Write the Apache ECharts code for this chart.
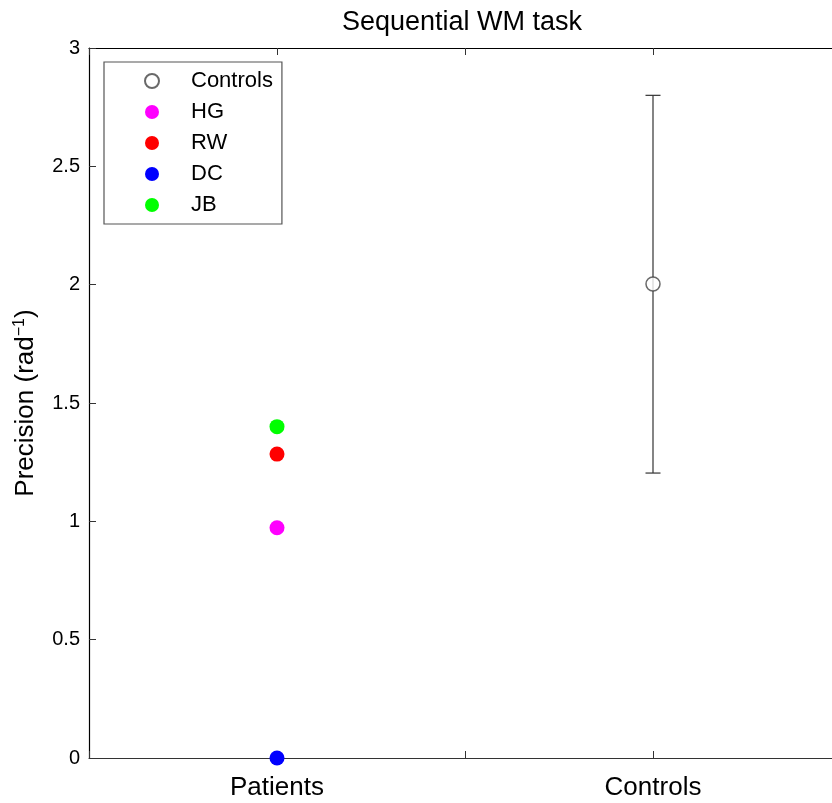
<!DOCTYPE html>
<html>
<head>
<meta charset="utf-8">
<script src="https://cdn.jsdelivr.net/npm/echarts@6/dist/echarts.min.js"></script>
<style>
  html, body { margin: 0; padding: 0; background: #fff; }
  #chart { width: 832px; height: 803px; }
</style>
</head>
<body>
<div id="chart"></div>
<script>
// group positions on the x axis
var groupNames = {1: 'Patients', 2: 'Controls'};

// patients (one point each, at x = 1)
var patientNames = ['HG', 'RW', 'DC', 'JB'];
var patientColors = ['#ff00ff', '#ff0000', '#0000ff', '#00ff00'];
var patientValues = [0.973, 1.284, 0.0, 1.400];

// controls: mean and error bar limits (at x = 2)
var controlsMean = [[2, 2.003]];
var controlsError = [[2, 1.204, 2.800]];

var font = 'Arial, "Liberation Sans", sans-serif';

function get_echarts() {
  var myChart = echarts.init(document.getElementById('chart'));

  var series = [];

  // error bar for the controls
  series.push({
    name: 'err',
    type: 'custom',
    silent: true,
    z: 1,
    data: controlsError,
    renderItem: function (params, api) {
      var lo = api.coord([api.value(0), api.value(1)]);
      var hi = api.coord([api.value(0), api.value(2)]);
      var w = 7.5;
      var st = {stroke: '#333', lineWidth: 1.2};
      return {
        type: 'group',
        children: [
          {type: 'line', shape: {x1: lo[0], y1: lo[1], x2: hi[0], y2: hi[1]}, style: st},
          {type: 'line', shape: {x1: lo[0] - w, y1: lo[1], x2: lo[0] + w, y2: lo[1]}, style: st},
          {type: 'line', shape: {x1: hi[0] - w, y1: hi[1], x2: hi[0] + w, y2: hi[1]}, style: st}
        ]
      };
    }
  });

  series.push({
    name: 'Controls',
    type: 'scatter',
    z: 3,
    symbol: 'circle',
    symbolSize: 14,
    itemStyle: {color: '#fff', borderColor: '#444', borderWidth: 1.5},
    data: controlsMean
  });

  for (var i = 0; i < patientNames.length; i++) {
    series.push({
      name: patientNames[i],
      type: 'scatter',
      z: 3,
      symbolSize: 15,
      itemStyle: {color: patientColors[i], opacity: 1},
      data: [[1, patientValues[i]]]
    });
  }

  var option = {
    animation: false,
    backgroundColor: '#fff',
    title: {
      text: 'Sequential WM task',
      left: 457,
      top: 4,
      textAlign: 'center',
      textStyle: {fontFamily: font, fontSize: 27, fontWeight: 'normal', color: '#000'}
    },
    legend: {
      orient: 'vertical',
      left: 104,
      top: 62,
      padding: [8, 9, 8, 40],
      itemGap: 9,
      itemWidth: 14,
      itemHeight: 14,
      borderColor: '#555',
      borderWidth: 1.2,
      data: [
        {name: 'Controls', icon: 'circle'},
        {name: 'HG', icon: 'circle'},
        {name: 'RW', icon: 'circle'},
        {name: 'DC', icon: 'circle'},
        {name: 'JB', icon: 'circle'}
      ],
      textStyle: {fontFamily: font, fontSize: 22, color: '#000', lineHeight: 22, padding: [0, 0, 0, 27]}
    },
    grid: {left: 89, top: 48, width: 752, bottom: 45, outerBoundsMode: 'none', containLabel: false},
    xAxis: [
      {
        type: 'value',
        min: 0.5,
        max: 2.5,
        interval: 0.5,
        splitLine: {show: false},
        axisLine: {lineStyle: {color: '#333', width: 1.2}},
        axisTick: {inside: true, length: 7, lineStyle: {color: '#333'}},
        axisLabel: {
          margin: 17,
          fontFamily: font,
          fontSize: 26,
          color: '#000',
          formatter: function (v) { return groupNames[v] || ''; }
        }
      },
      {
        type: 'value',
        position: 'top',
        min: 0.5,
        max: 2.5,
        interval: 0.5,
        splitLine: {show: false},
        axisLine: {show: true, lineStyle: {color: '#000', width: 1.2}},
        axisTick: {inside: true, length: 7, lineStyle: {color: '#333'}},
        axisLabel: {show: false}
      }
    ],
    yAxis: {
      type: 'value',
      min: 0,
      max: 3,
      interval: 0.5,
      splitLine: {show: false},
      axisLine: {show: true, lineStyle: {color: '#000', width: 1.2}},
      axisTick: {show: true, inside: true, length: 7, lineStyle: {color: '#333'}},
      axisLabel: {margin: 9, fontFamily: font, fontSize: 20, color: '#000'},
      name: 'Precision (rad{sup|−1})',
      nameLocation: 'middle',
      nameGap: 45,
      nameRotate: 90,
      nameTextStyle: {
        fontFamily: font,
        fontSize: 26,
        lineHeight: 30,
        color: '#000',
        rich: {
          sup: {fontFamily: font, fontSize: 16, color: '#000', verticalAlign: 'top', lineHeight: 16}
        }
      }
    },
    series: series
  };

  myChart.setOption(option);
}

get_echarts();
</script>
</body>
</html>
